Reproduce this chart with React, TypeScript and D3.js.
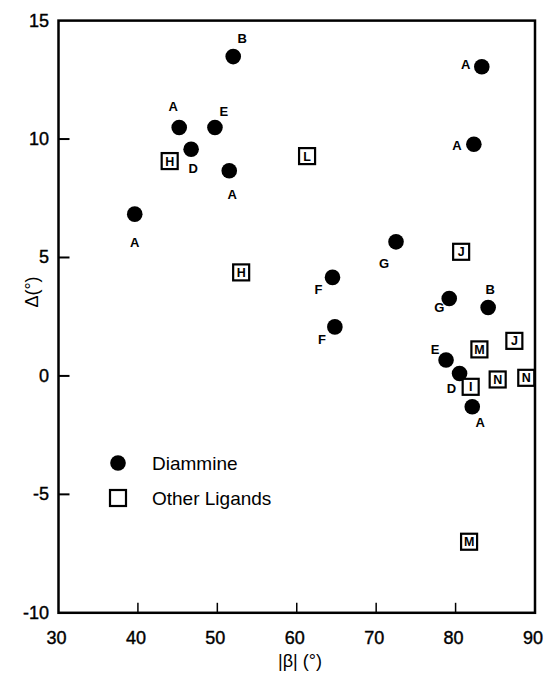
import React, { useEffect, useRef } from 'react';
import * as d3 from 'd3';

// diammine complexes (filled circles)
const diammineBeta = [39.6, 45.2, 46.7, 49.7, 52.0, 51.5, 83.3, 82.3, 72.5, 64.5, 64.8, 79.2, 84.1, 78.8, 80.5, 82.1];
const diammineDelta = [6.83, 10.49, 9.57, 10.49, 13.48, 8.66, 13.05, 9.78, 5.66, 4.16, 2.07, 3.27, 2.89, 0.67, 0.1, -1.3];
const diammineLabels = ['A', 'A', 'D', 'E', 'B', 'A', 'A', 'A', 'G', 'F', 'F', 'G', 'B', 'E', 'D', 'A'];

// other ligands (open squares, letter inside)
const otherBeta = [44.0, 61.3, 53.0, 80.7, 83.0, 87.4, 81.9, 85.3, 88.9, 81.7];
const otherDelta = [9.07, 9.28, 4.37, 5.24, 1.12, 1.48, -0.46, -0.15, -0.08, -7.0];
const otherLabels = ['H', 'L', 'H', 'J', 'M', 'J', 'I', 'N', 'N', 'M'];

const xTicks = [30, 40, 50, 60, 70, 80, 90];
const yTicks = [-10, -5, 0, 5, 10, 15];
const legendItems = ['Diammine', 'Other Ligands'];

// where each circle's letter sits, relative to the circle
const labelOffsets = [
    [0, 28], [-6, -21], [2, 19], [9, -16], [9, -18], [3, 24], [-16, -2], [-17, 1],
    [-12, 22], [-14, 12], [-13, 13], [-10, 9], [2, -18], [-11, -11], [-8, 15], [8, 16],
];

const W = 545;
const H = 673;
const margin = { top: 20.6, right: 10, bottom: 60, left: 58.5 };
const FONT = '"Liberation Sans", Arial, Helvetica, sans-serif';

function ScatterPlot() {
    const ref = useRef<SVGSVGElement>(null);

    useEffect(() => {
        const svg = d3.select(ref.current);
        svg.selectAll('*').remove();

        const x = d3.scaleLinear().domain([30, 90]).range([margin.left, W - margin.right]);
        const y = d3.scaleLinear().domain([-10, 15]).range([H - margin.bottom - 0.2, margin.top]);

        const g = svg.append('g');

        // frame
        g.append('rect')
            .attr('x', x(30))
            .attr('y', y(15))
            .attr('width', x(90) - x(30))
            .attr('height', y(-10) - y(15))
            .attr('fill', 'none')
            .attr('stroke', '#000')
            .attr('stroke-width', 2.5);

        // inward ticks
        g.selectAll('.xtick')
            .data(xTicks.slice(1, -1))
            .join('line')
            .attr('x1', (d) => x(d))
            .attr('x2', (d) => x(d))
            .attr('y1', y(-10))
            .attr('y2', y(-10) - 10)
            .attr('stroke', '#000')
            .attr('stroke-width', 1.5);

        g.selectAll('.ytick')
            .data(yTicks.slice(1, -1))
            .join('line')
            .attr('x1', x(30))
            .attr('x2', x(30) + 11)
            .attr('y1', (d) => y(d))
            .attr('y2', (d) => y(d))
            .attr('stroke', '#000')
            .attr('stroke-width', 2);

        // tick labels
        g.selectAll('.xlab')
            .data(xTicks)
            .join('text')
            .attr('x', (d) => x(d) - 2)
            .attr('y', y(-10) + 31)
            .attr('text-anchor', 'middle')
            .attr('font-family', FONT)
            .attr('font-size', 18)
            .attr('stroke', '#000')
            .attr('stroke-width', 0.4)
            .text((d) => d);

        g.selectAll('.ylab')
            .data(yTicks)
            .join('text')
            .attr('x', 49)
            .attr('y', (d) => y(d) + 6)
            .attr('text-anchor', 'end')
            .attr('font-family', FONT)
            .attr('font-size', 18)
            .attr('stroke', '#000')
            .attr('stroke-width', 0.4)
            .text((d) => d);

        // axis titles
        g.append('text')
            .attr('x', 300)
            .attr('y', 667)
            .attr('text-anchor', 'middle')
            .attr('font-family', FONT)
            .attr('font-size', 18)
            .text('|β| (°)');

        g.append('text')
            .attr('transform', `translate(38,292) rotate(-90)`)
            .attr('text-anchor', 'middle')
            .attr('font-family', FONT)
            .attr('font-size', 18)
            .text('Δ(°)');

        // diammine circles
        const diammine = diammineBeta.map((b, i) => ({ b, d: diammineDelta[i], label: diammineLabels[i], off: labelOffsets[i] }));
        g.selectAll('.dot')
            .data(diammine)
            .join('circle')
            .attr('cx', (d) => x(d.b))
            .attr('cy', (d) => y(d.d))
            .attr('r', 7.8)
            .attr('fill', '#000');

        // other ligand squares
        const other = otherBeta.map((b, i) => ({ b, d: otherDelta[i], label: otherLabels[i] }));
        const sq = g.selectAll('.sq')
            .data(other)
            .join('g')
            .attr('transform', (d) => `translate(${x(d.b)},${y(d.d)})`);
        sq.append('rect')
            .attr('x', -8)
            .attr('y', -8)
            .attr('width', 16)
            .attr('height', 16)
            .attr('fill', '#fff')
            .attr('stroke', '#000')
            .attr('stroke-width', 2.2);
        sq.append('text')
            .attr('text-anchor', 'middle')
            .attr('y', 4.5)
            .attr('font-family', FONT)
            .attr('font-weight', 'bold')
            .attr('font-size', 12.5)
            .text((d) => d.label);

        // circle letters
        g.selectAll('.dlab')
            .data(diammine)
            .join('text')
            .attr('x', (d) => x(d.b) + d.off[0])
            .attr('y', (d) => y(d.d) + d.off[1] + 4.6)
            .attr('text-anchor', 'middle')
            .attr('font-family', FONT)
            .attr('font-weight', 'bold')
            .attr('font-size', 13)
            .text((d) => d.label);

        // legend
        const leg = g.append('g').attr('transform', 'translate(118,463)');
        leg.append('circle').attr('cx', 0).attr('cy', 0).attr('r', 7.8).attr('fill', '#000');
        leg.append('rect')
            .attr('x', -8)
            .attr('y', 27)
            .attr('width', 16)
            .attr('height', 16)
            .attr('fill', '#fff')
            .attr('stroke', '#000')
            .attr('stroke-width', 2.2);
        leg.selectAll('.legtxt')
            .data(legendItems)
            .join('text')
            .attr('x', 34)
            .attr('y', (d, i) => i * 35 + 7)
            .attr('font-family', FONT)
            .attr('font-size', 19)
            .text((d) => d);
    }, []);

    return (
        <svg
            ref={ref}
            width={W}
            height={H}
            style={{ position: 'absolute', left: 0, top: 0, background: '#fff' }}
        />
    );
}

export default function App() {
    return <ScatterPlot />;
}
